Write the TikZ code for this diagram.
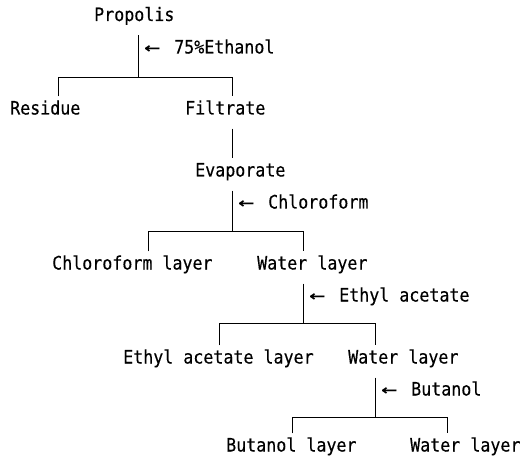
\documentclass[tikz,border=0pt]{standalone}
\usepackage{fontspec}
\newfontfamily\flowfont[FakeStretch=0.9,FakeBold=0.3]{DejaVu Sans Mono}
\usetikzlibrary{arrows}
\newcommand\colorFlow{black}
\newcommand\flowLine{0.8pt}
\newcommand\addArrow{\makebox[30pt][l]{\scalebox{1.6}[1]{←}}}
\tikzset{
	stepname/.style={anchor=base west, inner xsep=0pt, inner ysep=5pt,
		text height=13pt, text depth=9pt,
		font=\flowfont\fontsize{18.5}{20}\selectfont},
	solvent/.style={stepname, anchor=base west},
	flow/.style={draw=\colorFlow, line width=\flowLine}
}

\begin{document}
\begin{tikzpicture}[x=1pt,y=-1pt]
		\useasboundingbox (0,0) rectangle (524,462);
		
		% steps
		\node[stepname] (propolis) at (94,21) {Propolis};
		\node[stepname] (residue) at (10,114.5) {Residue};
		\node[stepname] (filtrate) at (185,114.5) {Filtrate};
		\node[stepname] (evaporate) at (195,176.5) {Evaporate};
		\node[stepname] (chlLayer) at (52,269.5) {Chloroform layer};
		\node[stepname] (waterI) at (257,269.5) {Water layer};
		\node[stepname] (ethLayer) at (123,363.5) {Ethyl acetate layer};
		\node[stepname] (waterII) at (348,363.5) {Water layer};
		\node[stepname] (butLayer) at (226,451.5) {Butanol layer};
		\node[stepname] (waterIII) at (410,451.5) {Water layer};
		
		% solvents
		\node[solvent] (ethanol) at (144,53.5) {\addArrow 75\%Ethanol};
		\node[solvent] (chloroform) at (238,208.5) {\addArrow Chloroform};
		\node[solvent] (ethylacetate) at (309,301.5) {\addArrow Ethyl acetate};
		\node[solvent] (butanol) at (381,395.5) {\addArrow Butanol};
		
		% splits
		\coordinate (splitI) at (138,77);
		\coordinate (splitIa) at (58,77);
		\coordinate (splitIb) at (232,77);
		\coordinate (splitII) at (232,231);
		\coordinate (splitIIa) at (148,231);
		\coordinate (splitIIb) at (303,231);
		\coordinate (splitIII) at (303,323);
		\coordinate (splitIIIa) at (219,323);
		\coordinate (splitIIIb) at (375,323);
		\coordinate (splitIV) at (375,417);
		\coordinate (splitIVa) at (292,417);
		\coordinate (splitIVb) at (447,417);
		
		\draw[flow] (propolis.south -| splitI) to (splitI);
		\draw[flow] (residue.north -| splitIa) to (splitIa) to (splitIb) to (filtrate.north -| splitIb);
		
		\draw[flow] (filtrate.south -| splitIb) to (evaporate.north -| splitIb);
		
		\draw[flow] (evaporate.south -| splitII) to (splitII);
		\draw[flow] (chlLayer.north -| splitIIa) to (splitIIa) to (splitIIb) to (waterI.north -| splitIIb);
		
		\draw[flow] (waterI.south -| splitIII) to (splitIII);
		\draw[flow] (ethLayer.north -| splitIIIa) to (splitIIIa) to (splitIIIb) to (waterII.north -| splitIIIb);
		
		\draw[flow] (waterII.south -| splitIV) to (splitIV);
		\draw[flow] (butLayer.north -| splitIVa) to (splitIVa) to (splitIVb) to (waterIII.north -| splitIVb);
	\end{tikzpicture}
\end{document}
